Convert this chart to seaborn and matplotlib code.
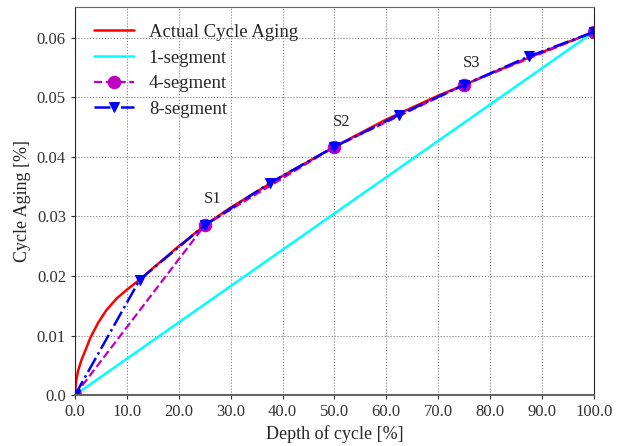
import matplotlib
matplotlib.use("Agg")
import matplotlib.pyplot as plt
import pandas as pd
import seaborn as sns

# values
depth = [0, 0.1, 0.25, 0.6, 1.25, 2, 3, 4.5, 6, 8, 10, 12.5, 15, 20, 25, 30, 40, 50, 60, 70, 75, 80, 90, 100]
aging = [0, 0.0014, 0.0025, 0.0041, 0.0059, 0.0075, 0.0097, 0.0122, 0.0142, 0.0162, 0.0177,
         0.0194, 0.0213, 0.0250, 0.0285, 0.0315, 0.0368, 0.0417, 0.0463, 0.0503, 0.0521,
         0.0540, 0.0576, 0.0610]
seg1_x = [0, 100]
seg1_y = [0, 0.061]
seg4_x = [0, 25, 50, 75, 100]
seg4_y = [0, 0.0285, 0.0417, 0.0521, 0.061]
seg8_x = [0, 12.5, 25, 37.5, 50, 62.5, 75, 87.5, 100]
seg8_y = [0, 0.0194, 0.0285, 0.0356, 0.0417, 0.0471, 0.0521, 0.0569, 0.061]
labels = ["S1", "S2", "S3"]
label_x = [26.6, 51.4, 76.5]
label_y = [0.0329, 0.0459, 0.0558]

sns.set_style("ticks")
plt.rcParams['font.family'] = ['Liberation Serif', 'DejaVu Serif']

fig = plt.figure(figsize=(6.25, 4.46), dpi=100)
ax = fig.add_axes([0.12, 0.1143, 0.83, 0.87])

sns.lineplot(x=depth, y=aging, ax=ax, color="red", lw=1.8, label="Actual Cycle Aging")
sns.lineplot(x=seg1_x, y=seg1_y, ax=ax, color="cyan", lw=1.8, label="1-segment")
sns.lineplot(x=seg4_x, y=seg4_y, ax=ax, color="m", lw=1.6, ls="--", marker="o",
             markersize=9, markeredgecolor="m", label="4-segment")
sns.lineplot(x=seg8_x, y=seg8_y, ax=ax, color="blue", lw=1.8, ls="-.", marker="v",
             markersize=7, markeredgecolor="blue", label="8-segment")

for t, tx, ty in zip(labels, label_x, label_y):
    ax.text(tx, ty, t, ha="center", va="center", fontsize=12)

ax.set_xlim(0, 100)
ax.set_ylim(0, 0.0652)
ax.set_xticks(range(0, 101, 10))
ax.set_xticklabels(["%.1f" % v for v in range(0, 101, 10)])
ax.set_yticks([0, 0.01, 0.02, 0.03, 0.04, 0.05, 0.06])
ax.set_yticklabels(["0.0", "0.01", "0.02", "0.03", "0.04", "0.05", "0.06"])
ax.tick_params(labelsize=12, length=3, colors="#333333")
ax.grid(True, ls=":", color="gray", lw=0.8)
ax.set_xlabel("Depth of cycle [%]", fontsize=13)
ax.set_ylabel("Cycle Aging [%]", fontsize=13)
for s in ["top", "bottom"]:
    ax.spines[s].set_color("#666666")
ax.spines["bottom"].set_linewidth(1.5)
ax.legend(loc="upper left", frameon=False, fontsize=13.5, handlelength=2.1,
          handletextpad=0.8, labelspacing=0.45, bbox_to_anchor=(0.005, 1.0))

fig.savefig("out.png", dpi=100)
